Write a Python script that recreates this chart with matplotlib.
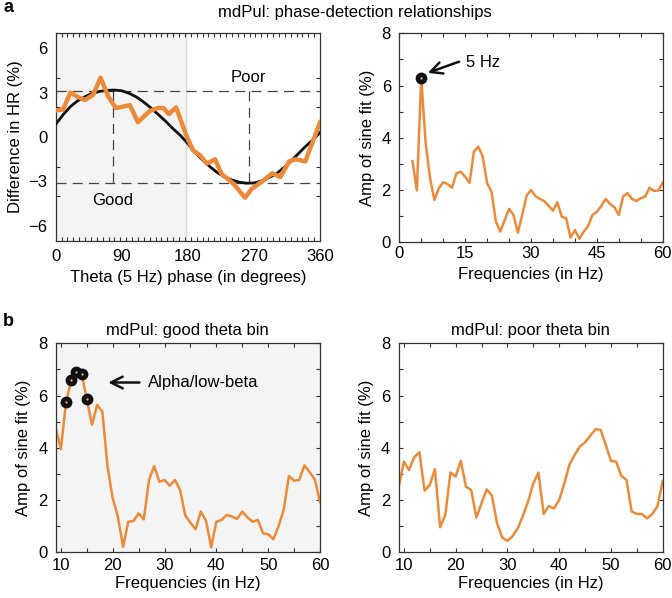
import matplotlib.pyplot as plt
from matplotlib.ticker import MultipleLocator

plt.rcParams['font.family'] = ['Liberation Sans', 'DejaVu Sans']
plt.rcParams['font.size'] = 12
plt.rcParams['axes.linewidth'] = 0.9

ORANGE = '#EC8A3A'

# panel a (left): HR difference vs theta phase
phase_deg = [0, 10, 20, 30, 40, 51, 61, 72, 82, 101, 112, 128, 140, 147, 154, 164,
             178, 187, 197, 206, 217, 226, 242, 258, 267, 284, 295, 306, 318, 327, 340, 360]
hr_diff = [1.8, 1.85, 3.0, 2.7, 2.5, 2.85, 4.0, 2.7, 1.95, 2.15, 1.0, 1.75, 1.97, 1.95, 1.55, 2.0,
           0.1, -0.9, -1.25, -1.8, -1.5, -2.5, -3.15, -4.1, -3.5, -2.9, -2.45, -2.7, -1.65, -1.5, -1.65, 1.0]
fit_deg = list(range(0, 361, 10))
fit_val = [0.85, 1.5, 2.05, 2.45, 2.72, 2.95, 3.08, 3.15, 3.17, 3.12, 2.95, 2.7, 2.35, 1.95, 1.5,
           1.05, 0.55, 0.1, -0.45, -1.05, -1.55, -2.0, -2.4, -2.7, -2.9, -3.05, -3.12, -3.1, -2.98,
           -2.75, -2.5, -2.1, -1.65, -1.15, -0.65, -0.2, 0.3]
fit_amp = 3.1
good_deg = 78
poor_deg = 263
shade_end = 177

# panel a (right): amplitude spectrum
freq_a = list(range(3, 61))
amp_a = [3.11, 1.98, 6.28, 3.8, 2.45, 1.62, 2.07, 2.3, 2.23, 2.09, 2.64, 2.7, 2.51, 2.28, 3.47,
         3.66, 3.28, 2.26, 1.94, 0.79, 0.41, 0.85, 1.28, 1.05, 0.37, 1.05, 1.79, 2.0, 1.77, 1.66,
         1.58, 1.4, 1.21, 1.53, 0.98, 0.92, 0.18, 0.47, 0.13, 0.41, 0.62, 1.05, 1.17, 1.39, 1.66,
         1.47, 1.34, 1.05, 1.77, 1.88, 1.66, 1.58, 1.69, 1.75, 2.09, 1.97, 1.98, 2.28]
peak_freq = 5

# panel b: good / poor theta bin spectra
freq_b = list(range(9, 61))
good_amp = [4.75, 3.95, 5.75, 6.58, 6.9, 6.83, 5.87, 4.88, 5.64, 5.39, 3.28, 2.07, 1.36, 0.21,
            1.17, 1.2, 1.49, 1.26, 2.77, 3.3, 2.7, 2.77, 2.55, 2.77, 2.39, 1.41, 1.13, 0.88, 1.56,
            1.21, 0.19, 1.17, 1.24, 1.43, 1.37, 1.28, 1.56, 1.34, 1.17, 1.24, 0.73, 0.69, 0.5, 1.0,
            1.63, 2.92, 2.74, 2.77, 3.33, 3.07, 2.79, 1.92]
good_marked = [11, 12, 13, 14, 15]
poor_amp = [2.49, 3.47, 3.15, 3.64, 3.83, 2.36, 2.58, 3.18, 0.96, 1.43, 3.05, 2.9, 3.5, 2.51,
            2.39, 1.33, 1.88, 2.41, 2.17, 1.11, 0.56, 0.44, 0.62, 0.92, 1.4, 1.95, 2.64, 3.05, 1.47,
            1.77, 1.68, 2.0, 2.64, 3.37, 3.73, 4.05, 4.21, 4.46, 4.71, 4.69, 4.11, 3.5, 3.47, 2.93,
            2.77, 1.56, 1.47, 1.46, 1.3, 1.47, 1.77, 2.74]

DASH = (0, (8, 5))


def matlab_box(ax, xpad=6, ypad=6):
    ax.tick_params(which='both', direction='in', top=True, right=True, color='#333333',
                   length=3, width=0.8)
    ax.tick_params(axis='x', which='major', pad=xpad)
    ax.tick_params(axis='y', which='major', pad=ypad)
    for s in ax.spines.values():
        s.set_color('#333333')


def mark(ax, xs, ys):
    ax.plot(xs, ys, 'o', ms=7.5, mfc='#111111', mec='#111111', zorder=5)
    ax.plot(xs, ys, 'o', ms=1.6, mfc='#F3B27A', mec='none', zorder=6)


fig = plt.figure(figsize=(6.72, 5.98), dpi=100)
ax1 = fig.add_axes([0.0829, 0.5975, 0.3933, 0.3468])
ax2 = fig.add_axes([0.5942, 0.5948, 0.392, 0.3495])
ax3 = fig.add_axes([0.0829, 0.0764, 0.3933, 0.3495])
ax4 = fig.add_axes([0.5933, 0.0764, 0.3929, 0.3495])

# a left
ax1.axvspan(0, shade_end, color='#F4F4F4', zorder=0)
ax1.axvline(shade_end, color='#D8D8D8', lw=1, zorder=0)
ax1.axhline(fit_amp, color='#444444', lw=0.9, ls=DASH)
ax1.axhline(-fit_amp, color='#444444', lw=0.9, ls=DASH)
ax1.plot([good_deg, good_deg], [fit_amp, -fit_amp], color='#444444', lw=0.9, ls=DASH)
ax1.plot([poor_deg, poor_deg], [fit_amp, -fit_amp], color='#444444', lw=0.9, ls=DASH)
ax1.plot(fit_deg, fit_val, color='#111111', lw=2.0, zorder=3)
ax1.plot(phase_deg, hr_diff, color=ORANGE, lw=3.2, zorder=4)
ax1.text(good_deg, -4.3, 'Good', ha='center', va='center')
ax1.text(poor_deg, 4.05, 'Poor', ha='center', va='center')
ax1.set_xlim(0, 360)
ax1.set_ylim(-7, 7)
ax1.set_xticks([0, 90, 180, 270, 360])
ax1.set_yticks([-6, -3, 0, 3, 6])
ax1.set_yticklabels(['\u22126', '\u22123', '0', '3', '6'])
ax1.xaxis.set_minor_locator(MultipleLocator(8))
ax1.yaxis.set_minor_locator(MultipleLocator(2))
ax1.set_xlabel('Theta (5 Hz) phase (in degrees)', labelpad=4)
ax1.set_ylabel('Difference in HR (%)', labelpad=4)
matlab_box(ax1)
ax1.tick_params(which='major', length=0)

# a right
ax2.plot(freq_a, amp_a, color=ORANGE, lw=1.8)
pk = freq_a.index(peak_freq)
mark(ax2, [freq_a[pk]], [amp_a[pk]])
ax2.annotate('', xy=(5.9, 6.45), xytext=(14.2, 6.95),
             arrowprops=dict(arrowstyle='->,head_length=0.7,head_width=0.35', lw=1.8, color='#111111'))
ax2.text(15.3, 6.9, '5 Hz', ha='left', va='center')
ax2.set_xlim(0, 60)
ax2.set_ylim(0, 8)
ax2.set_xticks([0, 15, 30, 45, 60])
ax2.set_yticks([0, 2, 4, 6, 8])
ax2.xaxis.set_minor_locator(MultipleLocator(5))
ax2.yaxis.set_minor_locator(MultipleLocator(1))
ax2.set_xlabel('Frequencies (in Hz)', labelpad=4)
ax2.set_ylabel('Amp of sine fit (%)', labelpad=5)
matlab_box(ax2, xpad=3)

# b left
ax3.set_facecolor('#F4F4F4')
ax3.plot(freq_b, good_amp, color=ORANGE, lw=1.8)
mark(ax3, good_marked, [good_amp[freq_b.index(f)] for f in good_marked])
ax3.annotate('', xy=(18.6, 6.5), xytext=(25.7, 6.5),
             arrowprops=dict(arrowstyle='->,head_length=0.7,head_width=0.35', lw=1.8, color='#111111'))
ax3.text(26.8, 6.5, 'Alpha/low-beta', ha='left', va='center')
ax3.set_title('mdPul: good theta bin', fontsize=12, pad=6)

# b right
ax4.plot(freq_b, poor_amp, color=ORANGE, lw=1.8)
ax4.set_title('mdPul: poor theta bin', fontsize=12, pad=6)

for ax in (ax3, ax4):
    ax.set_xlim(9, 60)
    ax.set_ylim(0, 8)
    ax.set_xticks([10, 20, 30, 40, 50, 60])
    ax.set_yticks([0, 2, 4, 6, 8])
    ax.xaxis.set_minor_locator(MultipleLocator(5))
    ax.yaxis.set_minor_locator(MultipleLocator(1))
    ax.set_xlabel('Frequencies (in Hz)', labelpad=2)
    ax.set_ylabel('Amp of sine fit (%)', labelpad=5)
    matlab_box(ax, xpad=4)

fig.text(355 / 672, 1 - 13 / 598, 'mdPul: phase-detection relationships', ha='center', va='center')
fig.text(3 / 672, 1 - 7 / 598, 'a', ha='left', va='center', fontweight='bold', fontsize=13)
fig.text(3 / 672, 1 - 321 / 598, 'b', ha='left', va='center', fontweight='bold', fontsize=13)

fig.savefig('out.png', dpi=100)
